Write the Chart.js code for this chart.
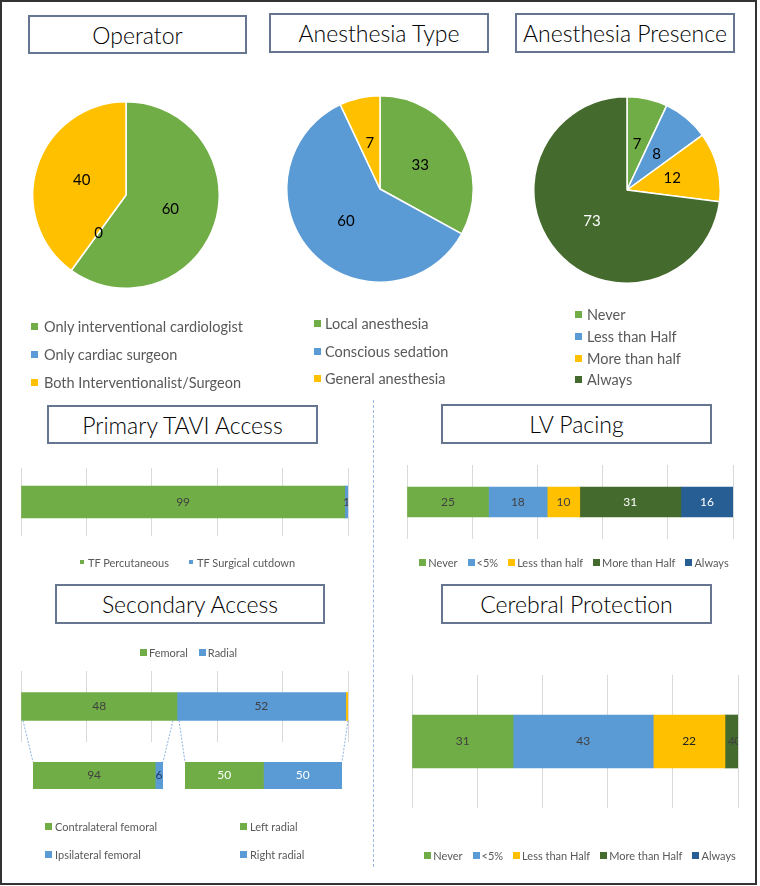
<!DOCTYPE html>
<html>
<head>
<meta charset="utf-8">
<script src="https://cdn.jsdelivr.net/npm/chart.js@4.4.0/dist/chart.umd.min.js"></script>
<style>
  body { margin: 0; background: #fff; font-family: Lato, "Noto Sans", sans-serif; }
  #frame { position: absolute; left: 0; top: 0; width: 757px; height: 885px; box-sizing: border-box; border: 2px solid #333; }
  .title { position: absolute; box-sizing: border-box; border: 2px solid #667590; background: #fff;
           display: flex; align-items: center; justify-content: center; font-size: 23px; font-weight: 300; color: #000; }
  canvas { position: absolute; }
  .legend { position: absolute; color: #595959; }
  .vlist .row { display: flex; align-items: center; }
  .hlist { display: flex; justify-content: center; align-items: center; }
  .item { display: flex; align-items: center; white-space: nowrap; }
  .mark { display: inline-block; flex: none; }
  #divider { position: absolute; left: 373px; top: 400px; height: 467px; border-left: 1px dashed #9DB8E3; }
</style>
</head>
<body>
<div id="frame"></div>

<div class="title" style="left:28px;top:15px;width:219px;height:39px">Operator</div>
<div class="title" style="left:269px;top:13px;width:220px;height:40px">Anesthesia Type</div>
<div class="title" style="left:515px;top:13px;width:220px;height:40px">Anesthesia Presence</div>
<div class="title" style="left:47px;top:405px;width:271px;height:39px">Primary TAVI Access</div>
<div class="title" style="left:441px;top:404px;width:271px;height:40px">LV Pacing</div>
<div class="title" style="left:55px;top:584px;width:270px;height:40px">Secondary Access</div>
<div class="title" style="left:441px;top:584px;width:271px;height:40px">Cerebral Protection</div>

<div id="divider"></div>

<canvas id="pieOperator" width="188" height="188" style="left:32px;top:101px"></canvas>
<canvas id="pieAnesType" width="188" height="188" style="left:286px;top:95px"></canvas>
<canvas id="pieAnesPres" width="188" height="188" style="left:533px;top:96px"></canvas>

<canvas id="barTavi" width="329" height="68" style="left:20px;top:468px"></canvas>
<canvas id="barLv" width="328" height="74" style="left:406px;top:465px"></canvas>
<canvas id="barSec" width="329" height="71" style="left:20px;top:671px"></canvas>
<canvas id="barFem" width="132" height="27" style="left:32px;top:762px"></canvas>
<canvas id="barRad" width="159" height="27" style="left:184px;top:762px"></canvas>
<canvas id="barCere" width="328" height="133" style="left:411px;top:675px"></canvas>

<canvas id="overlay" width="760" height="886" style="left:0;top:0;pointer-events:none"></canvas>

<div id="legOperator" class="legend vlist" style="left:31px;top:312px;font-size:14.5px"></div>
<div id="legAnesType" class="legend vlist" style="left:314px;top:310px;font-size:14.5px"></div>
<div id="legAnesPres" class="legend vlist" style="left:575px;top:304px;font-size:14.5px"></div>
<div id="legTavi" class="legend hlist" style="left:21px;width:333px;top:554px;height:16px;font-size:11px"></div>
<div id="legLv" class="legend hlist" style="left:420px;width:308px;top:554px;height:16px;font-size:11px"></div>
<div id="legSec" class="legend hlist" style="left:21px;width:335px;top:644px;height:16px;font-size:11px"></div>
<div id="legFem" class="legend vlist" style="left:45px;top:812px;font-size:11px"></div>
<div id="legRad" class="legend vlist" style="left:240px;top:812px;font-size:11px"></div>
<div id="legCere" class="legend hlist" style="left:426px;width:308px;top:847px;height:16px;font-size:11px"></div>

<script>
const GREEN = '#70AD47', BLUE = '#5B9BD5', ORANGE = '#FFC000', DKGREEN = '#446A2D', DKBLUE = '#275E94';
const DARK = '#404040', WHITE = '#ffffff';

// Pie charts
const operatorLabels = ['Only interventional cardiologist', 'Only cardiac surgeon', 'Both Interventionalist/Surgeon'];
const operatorValues = [60, 0, 40];
const anesTypeLabels = ['Local anesthesia', 'Conscious sedation', 'General anesthesia'];
const anesTypeValues = [33, 60, 7];
const anesPresLabels = ['Never', 'Less than Half', 'More than half', 'Always'];
const anesPresValues = [7, 8, 12, 73];

// Stacked bars (percent)
const taviLabels = ['TF Percutaneous', 'TF Surgical cutdown'];
const taviValues = [99, 1];
const lvLabels = ['Never', '<5%', 'Less than half', 'More than Half', 'Always'];
const lvValues = [25, 18, 10, 31, 16];
const secLabels = ['Femoral', 'Radial'];
const secValues = [47.7, 51.6, 0.7];
const femLabels = ['Contralateral femoral', 'Ipsilateral femoral'];
const femValues = [94, 6];
const radLabels = ['Left radial', 'Right radial'];
const radValues = [50, 50];
const cereLabels = ['Never', '<5%', 'Less than Half', 'More than Half', 'Always'];
const cereValues = [31, 43, 22, 4, 0];

Chart.defaults.font.family = 'Lato, "Noto Sans", sans-serif';

// draws the value of every slice / segment at its centre
const valueLabels = {
  id: 'valueLabels',
  afterDatasetsDraw(chart, args, opts) {
    const ctx = chart.ctx;
    const a = chart.chartArea;
    ctx.save();
    ctx.beginPath();
    ctx.rect(a.left, a.top, a.right - a.left, a.bottom - a.top);
    ctx.clip();
    ctx.font = opts.font;
    ctx.textAlign = 'center';
    ctx.textBaseline = 'middle';
    chart.data.datasets.forEach((ds, di) => {
      chart.getDatasetMeta(di).data.forEach((el, i) => {
        const color = Array.isArray(ds.labelColor) ? ds.labelColor[i] : ds.labelColor;
        if (!color) return;
        const p = el.getCenterPoint();
        ctx.fillStyle = color;
        ctx.fillText(String(Math.round(ds.data[i])), p.x, p.y);
      });
    });
    ctx.restore();
  }
};

function pie(id, labels, values, colors, labelColors) {
  return new Chart(document.getElementById(id), {
    type: 'pie',
    data: {
      labels: labels,
      datasets: [{ data: values, backgroundColor: colors, borderColor: '#fff', borderWidth: 1.5, labelColor: labelColors }]
    },
    options: {
      responsive: false,
      animation: false,
      plugins: { legend: { display: false }, tooltip: { enabled: false }, valueLabels: { font: '15px Lato' } }
    },
    plugins: [valueLabels]
  });
}

function stackedBar(id, values, colors, labelColors, showGrid, thickness) {
  return new Chart(document.getElementById(id), {
    type: 'bar',
    data: {
      labels: [''],
      datasets: values.map((v, i) => ({
        data: [v],
        backgroundColor: colors[i],
        labelColor: labelColors[i],
        barThickness: thickness
      }))
    },
    options: {
      indexAxis: 'y',
      responsive: false,
      animation: false,
      layout: { padding: { left: 1, right: 1 } },
      plugins: { legend: { display: false }, tooltip: { enabled: false }, valueLabels: { font: '12px Lato' } },
      scales: {
        x: {
          stacked: true, min: 0, max: 100,
          ticks: { display: false, stepSize: 20 },
          grid: { display: showGrid, color: '#D9D9D9', drawTicks: false },
          border: { display: false }
        },
        y: { stacked: true, display: false }
      }
    },
    plugins: [valueLabels]
  });
}

pie('pieOperator', operatorLabels, operatorValues, [GREEN, BLUE, ORANGE], ['#000', '#000', '#000']);
pie('pieAnesType', anesTypeLabels, anesTypeValues, [GREEN, BLUE, ORANGE], ['#000', '#000', '#000']);
pie('pieAnesPres', anesPresLabels, anesPresValues, [GREEN, BLUE, ORANGE, DKGREEN], ['#000', '#000', '#000', WHITE]);

stackedBar('barTavi', taviValues, [GREEN, BLUE], [DARK, DARK], true, 32);
stackedBar('barLv', lvValues, [GREEN, BLUE, ORANGE, DKGREEN, DKBLUE], [DARK, DARK, DARK, WHITE, WHITE], true, 30);
const secChart = stackedBar('barSec', secValues, [GREEN, BLUE, ORANGE], [DARK, DARK, null], true, 28);
const femChart = stackedBar('barFem', femValues, [GREEN, BLUE], [DARK, '#1F3864'], false, 27);
const radChart = stackedBar('barRad', radValues, [GREEN, BLUE], [WHITE, WHITE], false, 27);
stackedBar('barCere', cereValues, [GREEN, BLUE, ORANGE, DKGREEN, DKBLUE], [DARK, DARK, '#222', DARK, DARK], true, 53);

// dashed lines from the main Secondary Access bar down to its breakdowns
(function connectors() {
  const ctx = document.getElementById('overlay').getContext('2d');
  const off = c => ({ x: c.canvas.offsetLeft, y: c.canvas.offsetTop });
  const barEdges = c => {
    const el = c.getDatasetMeta(0).data[0];
    return { top: el.y - el.height / 2, bottom: el.y + el.height / 2 };
  };
  const px = (c, v) => off(c).x + c.scales.x.getPixelForValue(v);
  const yBottom = off(secChart).y + barEdges(secChart).bottom;
  const yFem = off(femChart).y + barEdges(femChart).top;
  const yRad = off(radChart).y + barEdges(radChart).top;
  const lines = [
    [px(secChart, 0) + 2, yBottom, px(femChart, 0), yFem],
    [px(secChart, secValues[0]) - 4, yBottom, px(femChart, 100), yFem],
    [px(secChart, secValues[0]) + 2, yBottom, px(radChart, 0), yRad],
    [px(secChart, 100), yBottom, px(radChart, 100), yRad]
  ];
  ctx.strokeStyle = '#6F9FD8';
  ctx.lineWidth = 0.8;
  ctx.setLineDash([2, 1.5]);
  lines.forEach(l => {
    ctx.beginPath();
    ctx.moveTo(l[0], l[1]);
    ctx.lineTo(l[2], l[3]);
    ctx.stroke();
  });
})();

// HTML legends
function vLegend(id, labels, colors, rowH, mark, gap) {
  const box = document.getElementById(id);
  labels.forEach((t, i) => {
    const row = document.createElement('div');
    row.className = 'row';
    row.style.height = rowH + 'px';
    row.innerHTML = '<span class="mark" style="width:' + mark + 'px;height:' + mark + 'px;background:' + colors[i] +
      ';margin-right:' + gap + 'px"></span><span>' + t.replace('<', '&lt;') + '</span>';
    box.appendChild(row);
  });
}
function hLegend(id, labels, colors, mark, gap, spacing) {
  const box = document.getElementById(id);
  labels.forEach((t, i) => {
    const it = document.createElement('div');
    it.className = 'item';
    if (i > 0) it.style.marginLeft = spacing + 'px';
    it.innerHTML = '<span class="mark" style="width:' + mark + 'px;height:' + mark + 'px;background:' + colors[i] +
      ';margin-right:' + gap + 'px"></span><span>' + t.replace('<', '&lt;') + '</span>';
    box.appendChild(it);
  });
}

vLegend('legOperator', operatorLabels, [GREEN, BLUE, ORANGE], 28, 7, 6);
vLegend('legAnesType', anesTypeLabels, [GREEN, BLUE, ORANGE], 27.5, 7, 4);
vLegend('legAnesPres', anesPresLabels, [GREEN, BLUE, ORANGE, DKGREEN], 21.7, 7, 5);
hLegend('legTavi', taviLabels, [GREEN, BLUE], 4, 4, 20);
hLegend('legLv', lvLabels, [GREEN, BLUE, ORANGE, DKGREEN, DKBLUE], 7, 2, 10);
hLegend('legSec', secLabels, [GREEN, BLUE], 7, 2, 11);
vLegend('legFem', femLabels, [GREEN, BLUE], 28, 7, 3);
vLegend('legRad', radLabels, [GREEN, BLUE], 28, 7, 3);
hLegend('legCere', cereLabels, [GREEN, BLUE, ORANGE, DKGREEN, DKBLUE], 7, 2, 10);
</script>
</body>
</html>
